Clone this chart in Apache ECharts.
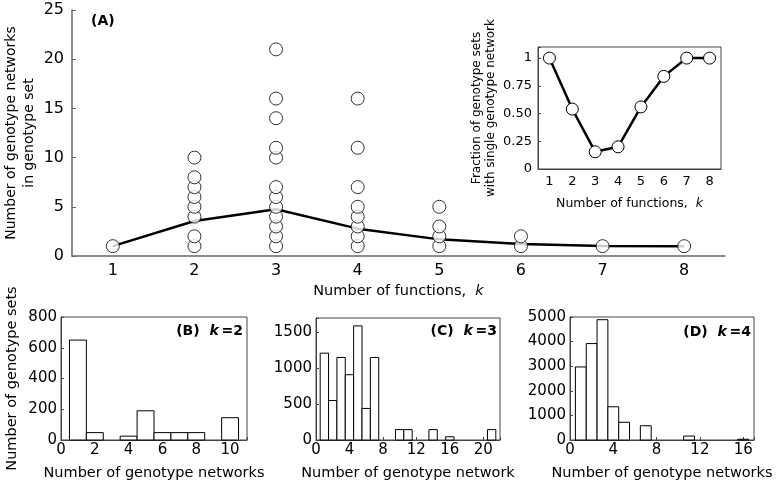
<!DOCTYPE html>
<html>
<head>
<meta charset="utf-8">
<script src="https://cdn.jsdelivr.net/npm/echarts@6/dist/echarts.min.js"></script>
<style>html,body{margin:0;padding:0;background:#fff}#c{width:776px;height:487px}</style>
</head>
<body>
<div id="c"></div>
<script>
// ---- data ----
const kLabels = ['1','2','3','4','5','6','7','8'];
const k1Sizes = [1];
const k2Sizes = [1, 2, 4, 5, 6, 7, 8, 10];
const k3Sizes = [1, 2, 3, 4, 5, 6, 7, 10, 11, 14, 16, 21];
const k4Sizes = [1, 2, 3, 4, 5, 7, 11, 16];
const k5Sizes = [1, 2, 3, 5];
const k6Sizes = [1, 2];
const k7Sizes = [1];
const k8Sizes = [1];
const meanSizes = [1, 3.55, 4.75, 2.78, 1.69, 1.22, 1.02, 1.0];
const singleFraction = [1, 0.54, 0.155, 0.2, 0.56, 0.835, 1, 1];
const yTicksMain = [0, 5, 10, 15, 20, 25];
const yTicksInset = [0, 0.25, 0.5, 0.75, 1];
// histograms: counts for number of genotype networks = 1..n
const histK2 = [650, 48, 0, 25, 190, 48, 48, 48, 0, 145];
const histK3 = [1210, 550, 1150, 910, 1590, 440, 1150, 0, 0, 145, 145, 0, 0, 145, 0, 45, 0, 0, 0, 0, 145];
const histK4 = [2970, 3920, 4890, 1350, 720, 0, 580, 0, 0, 0, 160, 0, 0, 0, 0, 30];

// ---- build ----
const FONT = 'DejaVu Sans';
const AX = '#444';
const allSizes = [k1Sizes, k2Sizes, k3Sizes, k4Sizes, k5Sizes, k6Sizes, k7Sizes, k8Sizes];
const scatterData = [];
allSizes.forEach((arr, i) => arr.forEach(v => scatterData.push([i, v])));
const toPairs = arr => arr.map((v, i) => [i + 1, v]);

function histRender(params, api) {
  const x = api.value(0), y = api.value(1);
  if (!y) return null;
  const p0 = api.coord([x - 0.5, y]);
  const p1 = api.coord([x + 0.5, 0]);
  return {type: 'rect', shape: {x: p0[0], y: p0[1], width: p1[0] - p0[0], height: p1[1] - p0[1]},
          style: {fill: '#fff', stroke: '#000', lineWidth: 1}};
}
const multipleOf = (step) => (v) => (Math.abs(v / step - Math.round(v / step)) < 1e-6 ? String(v) : '');

const txt = (size) => ({fontFamily: FONT, fontSize: size, color: '#000'});
const italicRich = (size) => ({i: {fontFamily: FONT, fontSize: size, fontStyle: 'italic', color: '#000'}});

function histX(idx, max, step, name) {
  return {type: 'value', gridIndex: idx, min: 0, max: max, interval: step,
    axisLine: {lineStyle: {color: AX}}, axisTick: {inside: true, length: 3, lineStyle: {color: AX}},
    axisLabel: Object.assign(txt(15), {margin: 3, formatter: multipleOf(step)}),
    splitLine: {show: false},
    name: name, nameLocation: 'middle', nameGap: 26, nameTextStyle: txt(14.5)};
}
function histY(idx, max, step, name) {
  return {type: 'value', gridIndex: idx, min: 0, max: max, interval: step,
    axisLine: {show: true, lineStyle: {color: AX}}, axisTick: {show: true, inside: true, length: 3, lineStyle: {color: AX}},
    axisLabel: Object.assign(txt(15), {margin: 4, formatter: multipleOf(step)}),
    splitLine: {show: false},
    name: name || '', nameLocation: 'middle', nameGap: 41, nameTextStyle: txt(14.5)};
}
const G = {outerBoundsMode: 'none', containLabel: false};

const option = {
  animation: false,
  backgroundColor: '#fff',
  grid: [
    Object.assign({left: 72, top: 10, width: 653, height: 246}, G),
    Object.assign({left: 538, top: 47, width: 183, height: 122, show: true, borderColor: AX, borderWidth: 1, backgroundColor: 'transparent'}, G),
    Object.assign({left: 61, top: 317, width: 186, height: 123, show: true, borderColor: AX, borderWidth: 1, backgroundColor: 'transparent'}, G),
    Object.assign({left: 316, top: 318, width: 184, height: 122, show: true, borderColor: AX, borderWidth: 1, backgroundColor: 'transparent'}, G),
    Object.assign({left: 570, top: 317, width: 184, height: 123, show: true, borderColor: AX, borderWidth: 1, backgroundColor: 'transparent'}, G)
  ],
  xAxis: [
    {type: 'category', gridIndex: 0, data: kLabels, boundaryGap: true,
      axisLine: {lineStyle: {color: '#666', width: 1.5}},
      axisTick: {inside: true, alignWithLabel: true, length: 3, lineStyle: {color: '#666'}},
      axisLabel: Object.assign(txt(16), {margin: 7}),
      name: 'Number of functions,  {i|k}', nameLocation: 'middle', nameGap: 28,
      nameTextStyle: Object.assign(txt(14.5), {rich: italicRich(14.5)})},
    {type: 'category', gridIndex: 1, data: kLabels, boundaryGap: true,
      axisLine: {lineStyle: {color: AX}},
      axisTick: {inside: true, alignWithLabel: true, length: 3, lineStyle: {color: AX}},
      axisLabel: Object.assign(txt(13), {margin: 6}),
      name: 'Number of functions,  {i|k}', nameLocation: 'middle', nameGap: 28,
      nameTextStyle: Object.assign(txt(12.5), {rich: italicRich(12.5)})},
    histX(2, 11, 2, 'Number of genotype networks'),
    histX(3, 22, 4, 'Number of genotype network'),
    histX(4, 17, 4, 'Number of genotype networks')
  ],
  yAxis: [
    {type: 'value', gridIndex: 0, min: yTicksMain[0], max: yTicksMain[yTicksMain.length - 1], interval: 5,
      axisLine: {show: true, lineStyle: {color: '#666', width: 1.5}},
      axisTick: {show: true, inside: true, length: 4, lineStyle: {color: '#666'}},
      axisLabel: Object.assign(txt(16), {margin: 8}),
      splitLine: {show: false},
      name: 'Number of genotype networks\nin genotype set', nameLocation: 'middle', nameGap: 34, nameMoveOverlap: false,
      nameTextStyle: Object.assign(txt(14), {lineHeight: 18})},
    {type: 'value', gridIndex: 1, min: 0, max: 1.1, interval: 0.25,
      axisLine: {show: true, lineStyle: {color: AX}},
      axisTick: {show: true, inside: true, length: 3, lineStyle: {color: AX}},
      axisLabel: Object.assign(txt(13), {margin: 6, formatter: v => {
        if (!yTicksInset.some(t => Math.abs(t - v) < 1e-6)) return '';
        return (v === 0 || v === 1) ? String(v) : v.toFixed(2);
      }}),
      splitLine: {show: false},
      name: 'Fraction of genotype sets\nwith single genotype network', nameLocation: 'middle', nameGap: 40,
      nameTextStyle: Object.assign(txt(12), {lineHeight: 14})},
    histY(2, 800, 200, 'Number of genotype sets'),
    histY(3, 1700, 500),
    histY(4, 5000, 1000)
  ],
  series: [
    {type: 'line', xAxisIndex: 0, yAxisIndex: 0, data: meanSizes, symbol: 'none', z: 2,
      lineStyle: {color: '#000', width: 2.5}},
    {type: 'scatter', xAxisIndex: 0, yAxisIndex: 0, data: scatterData, symbol: 'circle', symbolSize: 13, z: 3,
      itemStyle: {color: '#fff', borderColor: '#000', borderWidth: 1}},
    {type: 'line', xAxisIndex: 1, yAxisIndex: 1, data: singleFraction, symbol: 'circle', symbolSize: 12, z: 3,
      lineStyle: {color: '#000', width: 2.5},
      itemStyle: {color: '#fff', borderColor: '#000', borderWidth: 1}},
    {type: 'custom', xAxisIndex: 2, yAxisIndex: 2, data: toPairs(histK2), renderItem: histRender, encode: {x: 0, y: 1}},
    {type: 'custom', xAxisIndex: 3, yAxisIndex: 3, data: toPairs(histK3), renderItem: histRender, encode: {x: 0, y: 1}},
    {type: 'custom', xAxisIndex: 4, yAxisIndex: 4, data: toPairs(histK4), renderItem: histRender, encode: {x: 0, y: 1}}
  ],
  graphic: [
    {type: 'text', left: 91, top: 14, style: {text: '(A)', font: 'bold 14px "DejaVu Sans"', fill: '#000'}},
    {type: 'text', right: 776 - 243, top: 324, style: {text: '(B)  {i|k}\u2009=2', font: 'bold 14px "DejaVu Sans"', fill: '#000',
      rich: {i: {font: 'italic bold 14px "DejaVu Sans"', fill: '#000'}}}},
    {type: 'text', right: 776 - 497, top: 324, style: {text: '(C)  {i|k}\u2009=3', font: 'bold 14px "DejaVu Sans"', fill: '#000',
      rich: {i: {font: 'italic bold 14px "DejaVu Sans"', fill: '#000'}}}},
    {type: 'text', right: 776 - 751, top: 325, style: {text: '(D)  {i|k}\u2009=4', font: 'bold 14px "DejaVu Sans"', fill: '#000',
      rich: {i: {font: 'italic bold 14px "DejaVu Sans"', fill: '#000'}}}}
  ]
};
const chart = echarts.init(document.getElementById('c'), null, {renderer: 'canvas'});
chart.setOption(option);
</script>
</body>
</html>
